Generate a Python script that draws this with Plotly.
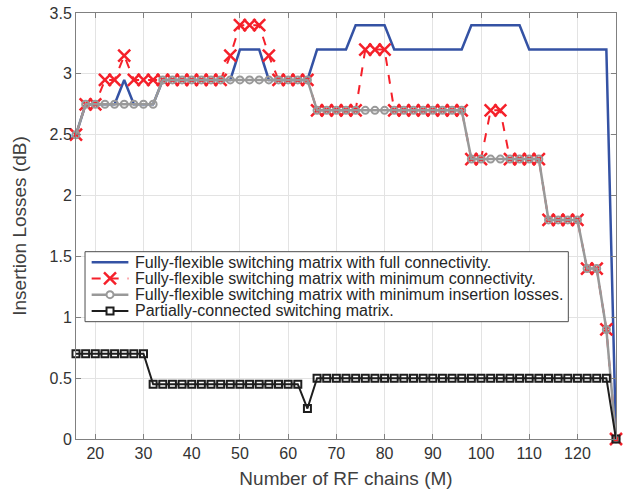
import plotly.graph_objects as go

# Number of RF chains (even values 16..128)
M = list(range(16, 129, 2))

# Insertion losses (dB) per switching architecture
full_conn = ([2.5] + [2.75] * 4 + [2.95] + [2.75] * 3 + [2.95] * 8 + [3.2] * 3 + [2.95] * 5
             + [3.2] * 4 + [3.4] * 4 + [3.2] * 8 + [3.4] * 6 + [3.2] * 9 + [0])
min_conn = ([2.5] + [2.75] * 2 + [2.95] * 2 + [3.15] + [2.95] * 10 + [3.15] + [3.4] * 3 + [3.15]
            + [2.95] * 4 + [2.7] * 5 + [3.2] * 3 + [2.7] * 8 + [2.3] * 2 + [2.7] * 2 + [2.3] * 4
            + [1.8] * 4 + [1.4] * 2 + [0.9] + [0])
min_loss = ([2.5] + [2.75] * 8 + [2.95] * 16 + [2.7] * 16 + [2.3] * 8 + [1.8] * 4 + [1.4] * 2
            + [0.9] + [0])
partial = [0.7] * 8 + [0.45] * 16 + [0.25] + [0.5] * 31 + [0]

names = [
    "Fully-flexible switching matrix with full connectivity.",
    "Fully-flexible switching matrix with minimum connectivity.",
    "Fully-flexible switching matrix with minimum insertion losses.",
    "Partially-connected switching matrix.",
]

BLUE, RED, GRAY, BLACK = "#3452A4", "#F5202A", "#999999", "#1E1E1E"
FONT = "Liberation Sans, Arial, Helvetica"

fig = go.Figure()
fig.add_trace(go.Scatter(x=M, y=full_conn, mode="lines", name=names[0],
                         line=dict(color=BLUE, width=2.5), cliponaxis=False))
fig.add_trace(go.Scatter(x=M, y=min_conn, mode="lines+markers", name=names[1],
                         line=dict(color=RED, width=2, dash="dash"),
                         marker=dict(symbol="x-thin-open", size=12,
                                     line=dict(color=RED, width=2.5)),
                         cliponaxis=False))
fig.add_trace(go.Scatter(x=M, y=min_loss, mode="lines+markers", name=names[2],
                         line=dict(color=GRAY, width=2.5),
                         marker=dict(symbol="circle-open", size=7,
                                     line=dict(color=GRAY, width=2)),
                         cliponaxis=False))
fig.add_trace(go.Scatter(x=M, y=partial, mode="lines+markers", name=names[3],
                         line=dict(color=BLACK, width=2),
                         marker=dict(symbol="square-open", size=7,
                                     line=dict(color=BLACK, width=2)),
                         cliponaxis=False))

axis_common = dict(showline=True, mirror="allticks", linecolor="#808080", linewidth=1,
                   ticks="inside", ticklen=5, tickcolor="#808080",
                   showgrid=True, gridcolor="#E3E3E3", gridwidth=1, zeroline=False,
                   automargin=False,
                   tickfont=dict(family=FONT, size=16, color="#333333"),
                   title_font=dict(family=FONT, size=19, color="#404040"))

fig.update_xaxes(range=[16, 128], tickvals=list(range(20, 121, 10)),
                 title_text="Number of RF chains (M)", title_standoff=10, **axis_common)
fig.update_yaxes(range=[0, 3.5], tickvals=[0, 0.5, 1, 1.5, 2, 2.5, 3, 3.5],
                 ticktext=["0", "0.5", "1", "1.5", "2", "2.5", "3", "3.5"],
                 title_text="Insertion Losses (dB)", title_standoff=17, **axis_common)

# Legend box drawn in paper coordinates with MATLAB-like tight row spacing
leg_left, leg_right, leg_top, leg_bottom = 0.0167, 0.9117, 0.4397, 0.2754
row_y = [0.4148, 0.3768, 0.3388, 0.3005]
key_x0, key_x1, key_mid, text_x = 0.029, 0.097, 0.063, 0.1055

shapes = [dict(type="rect", xref="paper", yref="paper", layer="above",
               x0=leg_left, x1=leg_right, y0=leg_bottom, y1=leg_top,
               fillcolor="white", line=dict(color="#4D4D4D", width=1))]
key_styles = [(BLUE, 2.5, "solid"), (RED, 2, "dash"), (GRAY, 2.5, "solid"), (BLACK, 2, "solid")]
for (col, w, dash), yy in zip(key_styles, row_y):
    shapes.append(dict(type="line", xref="paper", yref="paper", layer="above",
                       x0=key_x0, x1=key_x1, y0=yy, y1=yy,
                       line=dict(color=col, width=w, dash=dash)))

# key glyphs: cross, circle, square (pixel-sized around the key midpoint)
def glyph_line(y, dx0, dy0, dx1, dy1, col, w):
    return dict(type="line", xref="paper", yref="paper", layer="above",
                xsizemode="pixel", ysizemode="pixel", xanchor=key_mid, yanchor=y,
                x0=dx0, y0=dy0, x1=dx1, y1=dy1, line=dict(color=col, width=w))

shapes.append(glyph_line(row_y[1], -6, -6, 6, 6, RED, 2.5))
shapes.append(glyph_line(row_y[1], -6, 6, 6, -6, RED, 2.5))
shapes.append(dict(type="circle", xref="paper", yref="paper", layer="above",
                   xsizemode="pixel", ysizemode="pixel", xanchor=key_mid, yanchor=row_y[2],
                   x0=-3.5, x1=3.5, y0=-3.5, y1=3.5, fillcolor="white",
                   line=dict(color=GRAY, width=2)))
shapes.append(dict(type="rect", xref="paper", yref="paper", layer="above",
                   xsizemode="pixel", ysizemode="pixel", xanchor=key_mid, yanchor=row_y[3],
                   x0=-3.5, x1=3.5, y0=-3.5, y1=3.5, fillcolor="white",
                   line=dict(color=BLACK, width=2)))

annotations = [dict(xref="paper", yref="paper", x=text_x, y=yy, text=name,
                    xanchor="left", yanchor="middle", showarrow=False,
                    font=dict(family=FONT, size=16, color="#262626"))
               for name, yy in zip(names, row_y)]

fig.update_layout(
    width=624, height=489,
    margin=dict(l=76, r=8, t=13, b=50),
    plot_bgcolor="white", paper_bgcolor="white",
    font=dict(family=FONT, color="#262626"),
    showlegend=False,
    shapes=shapes,
    annotations=annotations,
)

fig.write_html("out.html")
